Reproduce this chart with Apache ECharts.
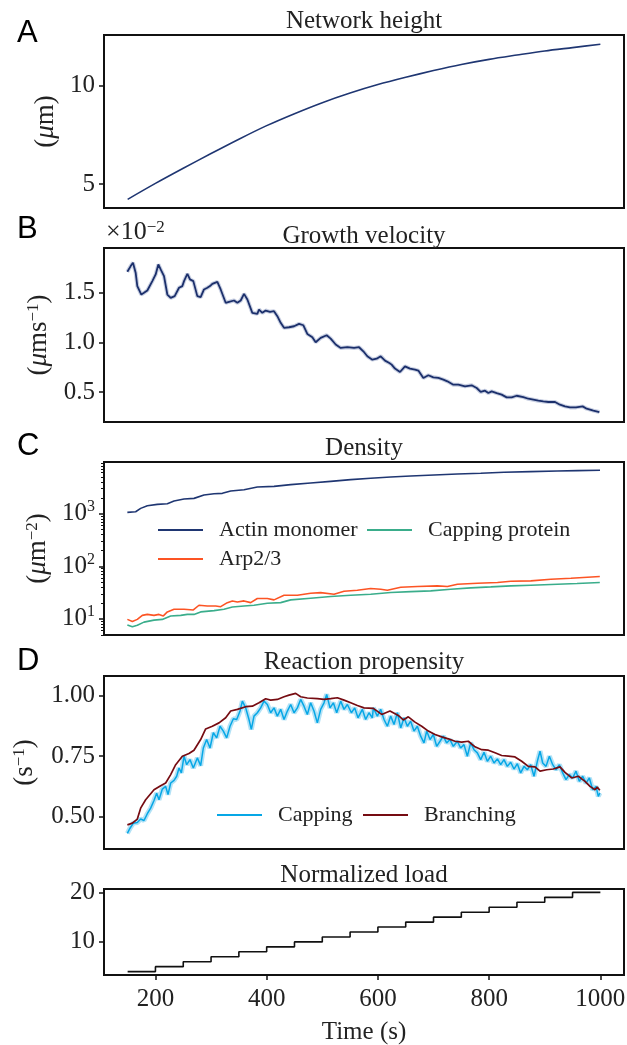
<!DOCTYPE html>
<html><head><meta charset="utf-8">
<script src="https://cdn.jsdelivr.net/npm/echarts@6/dist/echarts.min.js"></script>
<style>html,body{margin:0;padding:0;background:#fff}#c{width:627px;height:1045px}</style>
</head><body><div id="c"></div>
<script>
// ---------- DATA ----------
const xTicks = [200, 400, 600, 800, 1000];
const yTicksA = [5, 10];
const yTicksB = [0.5, 1.0, 1.5];
const yTicksC = [10, 100, 1000];
const minorTicksC = [5,6,7,8,9,20,30,40,50,60,70,80,90,200,300,400,500,600,700,800,900,2000,3000,4000,5000,6000,7000,8000,9000];
const yTicksD = [0.5, 0.75, 1.0];
const yTicksE = [10, 20];

// A: network height (um)
const heightT = [150,200,250,300,350,400,450,500,550,600,650,700,750,800,850,900,950,1000];
const heightV = [4.22,5.03,5.80,6.55,7.28,7.97,8.58,9.14,9.63,10.06,10.43,10.77,11.08,11.34,11.56,11.77,11.94,12.11];

// B: growth velocity (x1e-2 um/s)
const velT = [149.5,155.5,159.6,164.4,167.4,174.6,179.4,185.4,194.4,200.4,205.2,209.4,215.4,221.4,227.4,234.6,242.4,248.4,251.4,257.4,262.1,268.1,275.3,281.3,287.3,293.3,298.1,302.3,311.3,317.3,326.3,332.3,341.3,347.3,353.3,359.3,365.3,374.2,383.2,386.2,392.2,398.2,406,413.2,419.2,425.2,431.2,440.2,449.2,458.2,466,473.1,482.1,488.1,497.1,507.9,515.1,524.1,533.1,545.1,557.1,566.1,573.8,581,590,597.8,605,612.8,620.5,624.7,630.7,639.7,648.7,657.7,666.7,672.7,681.7,690.7,699.7,708.7,717.7,724.9,735.6,744.6,756.6,768.6,777.6,784.8,792.6,798.6,804.6,813.6,822.5,831.5,840.5,849.5,861.5,870.5,879.5,888.5,897.5,906.5,918.5,927.4,936.4,945.4,956.2,968.2,975.4,987.4,998.2];
const velV = [1.709,1.766,1.80,1.70,1.565,1.48,1.497,1.521,1.615,1.682,1.783,1.733,1.665,1.48,1.447,1.464,1.548,1.565,1.615,1.689,1.632,1.615,1.464,1.454,1.531,1.548,1.565,1.588,1.608,1.531,1.397,1.407,1.42,1.397,1.42,1.487,1.43,1.296,1.286,1.329,1.296,1.319,1.306,1.313,1.262,1.195,1.145,1.151,1.161,1.185,1.171,1.084,1.051,1.0,1.044,1.071,1.037,0.977,0.943,0.95,0.943,0.95,0.909,0.859,0.825,0.835,0.859,0.815,0.792,0.775,0.735,0.701,0.758,0.735,0.725,0.715,0.641,0.668,0.647,0.641,0.624,0.607,0.573,0.573,0.557,0.567,0.54,0.5,0.513,0.489,0.506,0.489,0.473,0.446,0.446,0.462,0.449,0.432,0.422,0.412,0.405,0.399,0.399,0.372,0.355,0.345,0.345,0.355,0.332,0.312,0.298];

// C: density (um^-2)
const actinT = [149.5,164.4,173.4,185.4,203.4,221.4,233.4,251.4,269.3,287.3,305.3,320.3,335.3,359.3,383.2,413.2,443.2,479.1,515.1,551.1,587,623,659,700.9,742.9,784.8,826.8,874.7,922.7,958.6,999.4];
const actinV = [1059,1090,1262,1418,1503,1549,1741,1901,1955,2263,2400,2437,2700,2860,3215,3310,3564,3832,4120,4433,4700,4985,5210,5445,5690,5850,6120,6300,6490,6580,6680];
const arpT = [149.5,158.5,167.4,176.4,185.4,197.4,206.4,214.2,221.4,233.4,251.4,268.1,278.3,293.3,308.3,317.3,329.3,338.3,347.3,359.3,371.2,383.2,401.2,413.2,431.2,455.2,479.1,497.1,521.1,539.1,563,587,605,617,641,671,707,725,743,779,815,839,875,911,947,999];
const arpV = [9.8,8.9,9.8,11.7,12.2,11.7,12.2,11.4,13.6,15.3,15.3,14.8,18.2,17.6,17.6,17.1,20.4,22,21,22,20.4,24.4,24.4,23,28.2,28.2,30.8,31.6,29.4,33.6,35.1,37.8,36.7,35.1,40,41.2,42.4,41.2,45.7,47.7,49.1,52.1,52.8,56.9,59.4,64];
const cpT = [149.5,158.5,167.4,179.4,197.4,212.3,227.4,245.4,257.4,269.3,281.3,305.3,323.3,338.3,359.3,377.2,401.2,425.2,443.2,479.1,515.1,551.1,587,623,659,695,731,767,803,839,875,911,958,999];
const cpV = [7.7,7.1,7.6,8.7,9.5,9.8,11.4,11.7,12.2,12.2,13.6,14.4,15.3,16.9,17.6,18.2,19.9,20.4,23,24.7,26.6,28.2,29.5,31.7,33.1,34.1,36.7,38.9,40.6,42.5,43.7,45,47,49.1];

// D: reaction propensity (s^-1)
const capT = [149.5,154.3,160.3,167.4,173.4,179.4,185.4,191.4,197.4,202.2,206.4,212.4,218.4,222.6,227.4,233.4,238.2,242.4,246.6,251.4,256.2,262.1,268.1,275.3,281.3,286.1,292.1,298.1,304.1,310.1,316.1,322.1,328.1,334.1,340.1,346.1,352.1,356.3,362.3,368.2,372.4,377.2,383.2,389.2,395.2,401.2,407.2,413.2,419.2,425.2,431.2,437.2,443.2,449.2,455.2,461.1,467.1,473.1,479.1,485.1,491.1,497.1,503.1,507.9,513.9,519.9,525.9,533.1,539.1,545.1,552.3,558.3,564.2,572,578,584,590,591.8,599,605,611,617,623,629,635,641,647,653,658.9,664.9,670.9,676.9,682.9,687.7,693.7,699.7,705.7,711.7,717.6,723.6,729.6,735.6,742.8,748.8,754.8,760.8,766.8,772.8,778.8,784.8,790.8,796.8,802.8,808.8,814.8,820.8,826.7,832.7,838.7,844.7,850.7,856.7,862.7,868.7,874.7,880.7,886.7,891.5,896.3,902.3,908.3,914.3,920.3,926.3,932.3,938.2,944.2,950.2,956.2,962.2,968.2,974.2,980.2,986.2,992.2,996.3,999.1];
const capV = [0.431,0.452,0.473,0.476,0.49,0.484,0.512,0.535,0.567,0.597,0.57,0.614,0.625,0.591,0.639,0.65,0.667,0.701,0.681,0.75,0.715,0.736,0.701,0.743,0.711,0.784,0.819,0.784,0.847,0.826,0.874,0.854,0.826,0.874,0.905,0.902,0.937,0.978,0.95,0.902,0.861,0.916,0.93,0.95,0.978,0.964,0.93,0.95,0.916,0.944,0.902,0.937,0.964,0.93,0.95,0.985,0.957,0.923,0.971,0.937,0.888,0.944,0.971,1.006,0.95,0.971,0.93,0.978,0.944,0.964,0.93,0.95,0.909,0.944,0.902,0.93,0.909,0.95,0.916,0.944,0.902,0.874,0.916,0.881,0.93,0.867,0.909,0.874,0.895,0.854,0.874,0.833,0.805,0.854,0.819,0.84,0.791,0.812,0.833,0.805,0.819,0.791,0.812,0.784,0.798,0.75,0.805,0.777,0.764,0.736,0.766,0.729,0.75,0.722,0.739,0.715,0.736,0.708,0.725,0.697,0.719,0.681,0.708,0.694,0.715,0.667,0.729,0.771,0.722,0.708,0.75,0.715,0.694,0.715,0.681,0.653,0.674,0.66,0.688,0.646,0.667,0.639,0.66,0.611,0.625,0.584,0.598];
const brT = [149.5,158.5,167.4,173.4,182.4,197.4,209.4,218.4,227.4,236.4,248.4,260.3,269.3,281.3,290.3,302.3,314.3,326.3,335.3,347.3,362.3,374.2,386.2,398.2,407.2,419.2,431.2,440.2,452.1,461.1,473.1,491.1,503.1,515.1,527.1,539.1,551.1,563.1,575,591.8,606.8,621.7,636.7,645.7,654.7,666.7,678.7,690.7,702.7,714.7,726.6,738.6,750.6,762.6,774.6,786.6,798.6,810.6,822.5,834.5,846.5,858.5,870.5,882.5,891.5,903.5,915.4,927.4,936.4,948.4,960.4,972.4,981.4,990.4,994.3,999.1];
const brV = [0.466,0.473,0.49,0.535,0.57,0.611,0.628,0.639,0.674,0.715,0.75,0.761,0.775,0.819,0.863,0.874,0.888,0.909,0.937,0.944,0.955,0.957,0.971,0.988,0.982,0.985,0.996,1.003,1.01,0.996,0.991,0.988,0.985,0.988,0.992,0.982,0.971,0.96,0.95,0.948,0.923,0.937,0.919,0.9,0.913,0.891,0.874,0.854,0.84,0.83,0.822,0.812,0.808,0.812,0.789,0.777,0.775,0.764,0.753,0.75,0.747,0.729,0.708,0.706,0.688,0.694,0.697,0.706,0.683,0.66,0.667,0.646,0.625,0.611,0.622,0.609];

// E: normalized load
const loadT = [150,200,250,300,350,400,450,500,550,600,650,700,750,800,850,900,950,1000];
const loadV = [4,5,6,7,8,9,10,11,12,13,14,15,16,17,18,19,20,20];

// ---------- CHART ----------
const SERIF = 'Liberation Serif';
const SANS = 'Liberation Sans';
const TXT = '#222';
const zip = (t, v) => t.map((x, i) => [x, v[i]]);

const gridTops = [35, 248, 462, 676, 889];
const gridHeights = [173, 174, 173, 173, 86];
const grid = gridTops.map((t, i) => ({
  left: 104, width: 520, top: t, height: gridHeights[i], outerBoundsMode: 'none', containLabel: false,
  show: true, borderColor: '#111', borderWidth: 2, backgroundColor: 'transparent'
}));

const xAxis = [0,1,2,3,4].map(i => {
  const base = { type: 'value', gridIndex: i, min: 107.5, max: 1042.5, splitLine: { show: false },
    axisLine: { show: false } };
  if (i < 4) return Object.assign(base, { axisTick: { show: false }, axisLabel: { show: false } });
  return Object.assign(base, {
    axisTick: { show: true, length: 5, inside: false, lineStyle: { color: '#111', width: 1.5 }, customValues: xTicks },
    axisLabel: { customValues: xTicks, formatter: v => String(v), fontFamily: SERIF, fontSize: 25, color: TXT, margin: 12 },
    name: 'Time (s)', nameLocation: 'middle', nameGap: 45,
    nameTextStyle: { fontFamily: SERIF, fontSize: 25, color: TXT }
  });
});

const supRich = {
  sup: { fontFamily: SERIF, fontSize: 17, color: TXT, verticalAlign: 'top', lineHeight: 17 },
  it: { fontFamily: SERIF, fontSize: 27, color: TXT, fontStyle: 'italic' }
};
function yBase(gi, min, max, ticks, fmt, name, gap) {
  return {
    type: 'value', gridIndex: gi, min: min, max: max, splitLine: { show: false },
    axisLine: { show: false },
    axisTick: { show: true, length: 5, lineStyle: { color: '#111', width: 1.5 }, customValues: ticks },
    axisLabel: { customValues: ticks, formatter: fmt, fontFamily: SERIF, fontSize: 25, color: TXT, margin: 9 },
    name: name, nameLocation: 'middle', nameRotate: 90, nameGap: gap,
    nameTextStyle: { fontFamily: SERIF, fontSize: 27, color: TXT, rich: supRich }
  };
}
const yAxis = [
  yBase(0, 3.78, 12.58, yTicksA, v => String(v), '({it|μ}m)', 45),
  yBase(1, 0.198, 1.948, yTicksB, v => v.toFixed(1), '({it|μ}ms{sup|−1})', 52),
  Object.assign(yBase(2, 4.95, 9600, yTicksC,
      v => '10{sup|' + Math.round(Math.log10(v)) + '}', '({it|μ}m{sup|−2})', 52),
    { type: 'log', logBase: 10 }),
  { type: 'log', logBase: 10, gridIndex: 2, min: 4.95, max: 9600, position: 'left',
    splitLine: { show: false }, axisLine: { show: false }, axisLabel: { show: false },
    axisTick: { show: true, length: 3, lineStyle: { color: '#111', width: 1 }, customValues: minorTicksC } },
  yBase(3, 0.366, 1.082, yTicksD, v => v.toFixed(2), '(s{sup|−1})', 66),
  yBase(4, 3.31, 20.69, yTicksE, v => String(v), '', 40)
];
yAxis[2].axisLabel.rich = {
  sup: { fontFamily: SERIF, fontSize: 16, color: TXT, verticalAlign: 'top', lineHeight: 12 }
};
yAxis[2].axisLabel.lineHeight = 30;
yAxis[2].axisLabel.verticalAlign = 'middle';

const lineS = (name, xi, yi, data, color, width, extra) => Object.assign({
  name: name, type: 'line', xAxisIndex: xi, yAxisIndex: yi, data: data,
  symbol: 'none', showSymbol: false, lineStyle: { color: color, width: width }, itemStyle: { color: color },
  animation: false, silent: true
}, extra || {});

const series = [
  lineS('Network height', 0, 0, zip(heightT, heightV), '#1f3672', 1.6, { smooth: 0.3 }),
  lineS('VelBand', 1, 1, zip(velT, velV), '#c9d0e2', 4),
  lineS('Growth velocity', 1, 1, zip(velT, velV), '#1b2f6b', 1.8),
  lineS('Actin monomer', 2, 2, zip(actinT, actinV), '#1f3672', 1.6),
  lineS('Arp2/3', 2, 2, zip(arpT, arpV), '#fc5424', 1.6),
  lineS('Capping protein', 2, 2, zip(cpT, cpV), '#3aad8b', 1.6),
  lineS('CapBand', 3, 4, zip(capT, capV), '#b3e2f6', 5),
  lineS('Capping', 3, 4, zip(capT, capV), '#06a7e6', 1.5),
  lineS('Branching', 3, 4, zip(brT, brV), '#760c12', 1.7),
  lineS('Normalized load', 4, 5, zip(loadT, loadV), '#111', 1.6, { step: 'end' })
];

const legStyle = { fontFamily: SERIF, fontSize: 22, color: TXT, padding: [0, 0, 0, 11] };
const legBase = (data, left, top) => ({
  data: data, left: left, top: top, icon: 'rect', itemWidth: 45, itemHeight: 2,
  textStyle: legStyle, selectedMode: false, padding: 0, itemGap: 20
});
const legend = [
  legBase(['Actin monomer'], 158, 519),
  legBase(['Capping protein'], 367, 519),
  legBase(['Arp2/3'], 158, 548),
  legBase(['Capping'], 217, 804),
  legBase(['Branching'], 363, 804)
];

const titleText = (txt, y) => ({ type: 'text', x: 364, y: y,
  style: { text: txt, fontFamily: SERIF, fontSize: 25, fill: TXT, align: 'center', verticalAlign: 'middle' } });
const letter = (txt, y) => ({ type: 'text', x: 17, y: y,
  style: { text: txt, fontFamily: SANS, fontSize: 31, fill: '#000', align: 'left', verticalAlign: 'middle' } });

const graphic = [
  titleText('Network height', 21),
  titleText('Growth velocity', 236),
  titleText('Density', 448),
  titleText('Reaction propensity', 662),
  titleText('Normalized load', 875),
  letter('A', 33), letter('B', 229), letter('C', 446), letter('D', 661),
  { type: 'text', x: 106, y: 232,
    style: { text: '×10{s|−2}', fontFamily: SERIF, fontSize: 26, fill: TXT, align: 'left', verticalAlign: 'middle',
      rich: { s: { fontFamily: SERIF, fontSize: 17, fill: TXT, verticalAlign: 'top', lineHeight: 12 } } } }
];

const chart = echarts.init(document.getElementById('c'), null, { renderer: 'canvas' });
chart.setOption({
  animation: false, backgroundColor: '#fff',
  grid: grid, xAxis: xAxis, yAxis: yAxis, series: series, legend: legend, graphic: graphic
});
</script></body></html>
